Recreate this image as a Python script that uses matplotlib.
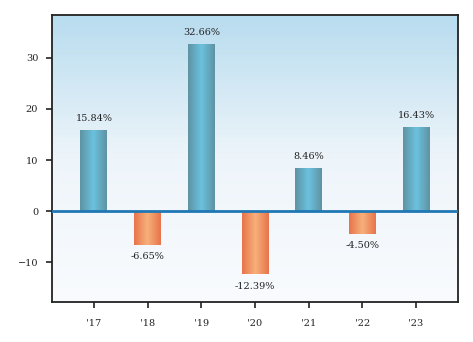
import numpy as np
import matplotlib.pyplot as plt
from matplotlib.colors import LinearSegmentedColormap
from matplotlib.patches import Rectangle

years = ["'17", "'18", "'19", "'20", "'21", "'22", "'23"]
returns = [15.84, -6.65, 32.66, -12.39, 8.46, -4.50, 16.43]

plt.rcParams['font.family'] = ['DejaVu Serif']

fig, ax = plt.subplots(figsize=(4.73, 3.42), dpi=100)
fig.subplots_adjust(left=0.11, right=0.968, top=0.956, bottom=0.117)

ymin, ymax = -17.8, 38.4
xmin, xmax = -0.78, 6.78

# background: light blue at top fading to white
bg_cmap = LinearSegmentedColormap.from_list('bg', ['#f9fbfe', '#eef5fa', '#b8dcef'])
grad = np.linspace(0, 1, 256).reshape(-1, 1)
ax.imshow(grad, cmap=bg_cmap, aspect='auto', origin='lower',
          extent=[xmin, xmax, ymin, ymax], zorder=0)

pos_cmap = LinearSegmentedColormap.from_list('pos', ['#5e93a3', '#6bc2de', '#5e93a3'])
neg_cmap = LinearSegmentedColormap.from_list('neg', ['#e8744a', '#f7b07c', '#e8744a'])
hgrad = np.linspace(0, 1, 128).reshape(1, -1)

width = 0.5
for i, v in enumerate(returns):
    x0 = i - width / 2
    y0 = 0 if v >= 0 else v
    rect = Rectangle((x0, y0), width, abs(v), facecolor='none', edgecolor='none')
    ax.add_patch(rect)
    im = ax.imshow(hgrad, cmap=pos_cmap if v >= 0 else neg_cmap, aspect='auto',
                   extent=[x0, x0 + width, y0, y0 + abs(v)], zorder=2)
    im.set_clip_path(rect)
    if v >= 0:
        ax.text(i, v + 1.4, f'{v:.2f}%', ha='center', va='bottom', fontsize=7, color='#222222')
    else:
        ax.text(i, v - 1.4, f'{v:.2f}%', ha='center', va='top', fontsize=7, color='#222222')

ax.axhline(0, color='#1f77b4', lw=2, zorder=3)

ax.set_xlim(xmin, xmax)
ax.set_ylim(ymin, ymax)
ax.set_xticks(range(len(years)))
ax.set_xticklabels(years)
ax.set_yticks([-10, 0, 10, 20, 30])
ax.tick_params(labelsize=7, colors='#222222', length=4, width=1.2, pad=8)
ax.tick_params(axis='y', pad=6)
for s in ax.spines.values():
    s.set_linewidth(1.3)
    s.set_color('#222222')

fig.savefig('out.png', dpi=100)
